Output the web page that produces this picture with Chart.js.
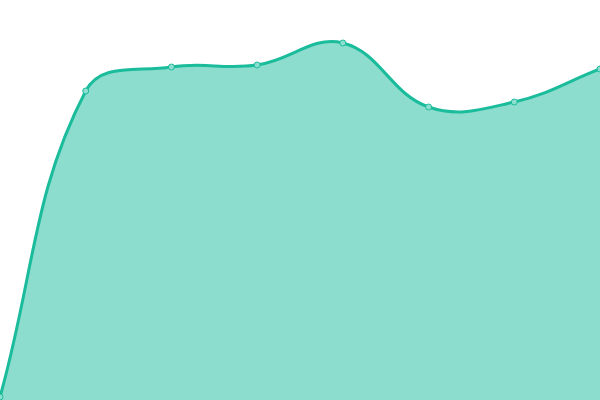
<!DOCTYPE html>
<html>
<head>
<meta charset="utf-8">
<style>
html,body{margin:0;padding:0;background:#fff;}
#wrap{width:600px;height:400px;}
</style>
<script src="https://cdn.jsdelivr.net/npm/chart.js@4"></script>
</head>
<body>
<div id="wrap"><canvas id="c" width="600" height="400"></canvas></div>
<script>
const categories = ["1","2","3","4","5","6","7","8"];
const values = [3, 309, 333, 335, 357, 293, 298, 331];
const yMin = 0;
const yMax = 400;

new Chart(document.getElementById('c'), {
  type: 'line',
  data: {
    labels: categories,
    datasets: [{
      data: values,
      borderColor: '#1abc9c',
      backgroundColor: 'rgba(26,188,156,0.5)',
      fill: true,
      tension: 0.4,
      borderWidth: 3,
      pointRadius: 3,
      pointBackgroundColor: '#8ddece',
      pointBorderColor: '#1abc9c',
      pointBorderWidth: 1
    }]
  },
  options: {
    responsive: false,
    animation: false,
    layout: { padding: 0, autoPadding: false },
    plugins: { legend: { display: false }, tooltip: { enabled: false } },
    scales: {
      x: { display: false },
      y: { display: false, min: yMin, max: yMax }
    }
  }
});
</script>
</body>
</html>
